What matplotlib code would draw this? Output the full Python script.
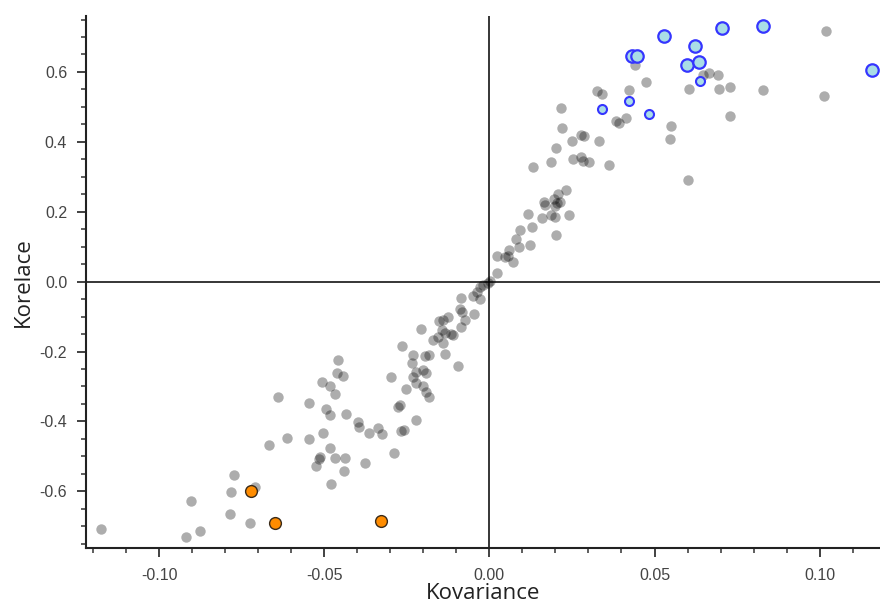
import matplotlib
matplotlib.use("Agg")
import matplotlib.pyplot as plt
from matplotlib.ticker import MultipleLocator, FormatStrFormatter

plt.rcParams['axes.unicode_minus'] = False

# covariance / correlation pairs, ordinary assets
gray_cov = [0.1020, 0.0829, 0.1012, 0.0440, 0.0474, 0.0422, 0.0325, 0.0340, 0.0648, 0.0665,
            0.0693, 0.0605, 0.0696, 0.0728, 0.0728, 0.0413, 0.0383, 0.0393, 0.0550, 0.0546,
            0.0600, 0.0218, 0.0221, 0.0249, 0.0276, 0.0286, 0.0332, 0.0252, 0.0276, 0.0282,
            0.0301, 0.0363, 0.0232, 0.0201, 0.0185, 0.0132, 0.0209, 0.0195, 0.0165, 0.0169,
            0.0205, 0.0215, 0.0200, 0.0117, 0.0158, 0.0185, 0.0198, 0.0241, 0.0129, 0.0092,
            0.0201, 0.0082, 0.0122, 0.0090, 0.0059, 0.0022, 0.0047, 0.0057, 0.0070, 0.0022,
            0.0001, -0.0004, -0.0019, -0.0029, -0.0037, -0.0049, -0.0029, -0.0085, -0.0090, -0.0082,
            -0.0047, -0.0125, -0.0142, -0.0152, -0.0075, -0.0085, -0.0206, -0.0145, -0.0135, -0.0115,
            -0.0110, -0.0155, -0.0171, -0.0140, -0.0266, -0.0135, -0.0095, -0.0231, -0.0196, -0.0183,
            -0.0236, -0.0297, -0.0221, -0.0201, -0.0191, -0.0231, -0.0221, -0.0201, -0.0191, -0.0183,
            -0.0223, -0.0460, -0.0463, -0.0443, -0.0506, -0.0484, -0.0468, -0.0640, -0.0546, -0.0496,
            -0.0484, -0.0433, -0.0398, -0.0396, -0.0337, -0.0365, -0.0324, -0.0504, -0.0254, -0.0278,
            -0.0272, -0.0258, -0.0269, -0.0290, -0.0613, -0.0547, -0.0669, -0.0484, -0.0512, -0.0516,
            -0.0526, -0.0468, -0.0438, -0.0440, -0.0378, -0.0479, -0.0775, -0.0784, -0.0711, -0.0785,
            -0.0724, -0.0903, -0.1178, -0.0918, -0.0878]
gray_cor = [0.717, 0.549, 0.530, 0.620, 0.572, 0.549, 0.546, 0.538, 0.591, 0.596,
            0.591, 0.552, 0.550, 0.557, 0.474, 0.469, 0.461, 0.453, 0.445, 0.407,
            0.292, 0.497, 0.439, 0.403, 0.420, 0.417, 0.403, 0.352, 0.358, 0.345,
            0.342, 0.333, 0.262, 0.381, 0.342, 0.328, 0.251, 0.236, 0.229, 0.219,
            0.224, 0.227, 0.215, 0.194, 0.183, 0.191, 0.186, 0.190, 0.157, 0.148,
            0.134, 0.122, 0.106, 0.098, 0.091, 0.072, 0.070, 0.074, 0.057, 0.026,
            0.003, -0.005, -0.009, -0.016, -0.029, -0.041, -0.050, -0.048, -0.079, -0.086,
            -0.092, -0.100, -0.110, -0.114, -0.110, -0.129, -0.136, -0.138, -0.146, -0.150,
            -0.153, -0.159, -0.167, -0.176, -0.184, -0.207, -0.240, -0.210, -0.213, -0.210,
            -0.233, -0.272, -0.258, -0.253, -0.262, -0.274, -0.291, -0.300, -0.315, -0.331,
            -0.396, -0.224, -0.260, -0.269, -0.288, -0.298, -0.321, -0.329, -0.346, -0.363,
            -0.381, -0.380, -0.401, -0.415, -0.418, -0.434, -0.437, -0.432, -0.307, -0.359,
            -0.353, -0.424, -0.427, -0.489, -0.448, -0.451, -0.467, -0.477, -0.502, -0.508,
            -0.527, -0.504, -0.504, -0.542, -0.520, -0.579, -0.553, -0.603, -0.587, -0.665,
            -0.691, -0.628, -0.707, -0.730, -0.713]

# highlighted: large blue, small blue, orange
blue_big_cov = [0.0433, 0.0447, 0.0528, 0.0623, 0.0599, 0.0634, 0.0703, 0.0829, 0.1159]
blue_big_cor = [0.646, 0.646, 0.703, 0.674, 0.621, 0.628, 0.725, 0.732, 0.605]
blue_small_cov = [0.0638, 0.0423, 0.0340, 0.0482]
blue_small_cor = [0.573, 0.516, 0.494, 0.479]
orange_cov = [-0.0723, -0.0649, -0.0329]
orange_cor = [-0.599, -0.691, -0.685]

fig = plt.figure(figsize=(8.8, 6.04), dpi=100)
ax = fig.add_axes([0.0977, 0.0922, 0.9023, 0.8813])

ax.axhline(0, color='black', lw=1.1, zorder=1)
ax.axvline(0, color='black', lw=1.1, zorder=1)

ax.scatter(gray_cov, gray_cor, s=56, color='black', alpha=0.32, linewidths=0, zorder=2)
ax.scatter(orange_cov, orange_cor, s=72, color='#ff8c00', edgecolors='#3a2a18',
           linewidths=1.0, zorder=3)
ax.scatter(blue_big_cov, blue_big_cor, s=80, color='#a9dde6', edgecolors='#3535ff',
           linewidths=1.6, zorder=3)
ax.scatter(blue_small_cov, blue_small_cor, s=42, color='#a9dde6', edgecolors='#3535ff',
           linewidths=1.5, zorder=3)

ax.set_xlim(-0.1222, 0.1183)
ax.set_ylim(-0.763, 0.760)

ax.xaxis.set_major_locator(MultipleLocator(0.05))
ax.xaxis.set_minor_locator(MultipleLocator(0.01))
ax.yaxis.set_major_locator(MultipleLocator(0.2))
ax.yaxis.set_minor_locator(MultipleLocator(0.05))
ax.xaxis.set_major_formatter(FormatStrFormatter('%.2f'))
ax.yaxis.set_major_formatter(FormatStrFormatter('%.1f'))

for side in ['top', 'right']:
    ax.spines[side].set_visible(False)
for side in ['left', 'bottom']:
    ax.spines[side].set_linewidth(1.5)
    ax.spines[side].set_color('#222222')

ax.tick_params(which='major', direction='out', length=6.5, width=1.3, color='#333333',
               labelsize=11.5, labelcolor='#444444')
ax.tick_params(which='minor', direction='out', length=3.5, width=1.1, color='#333333')
ax.tick_params(axis='x', which='major', pad=8)
ax.tick_params(axis='y', which='major', pad=7)
for lab in ax.get_xticklabels() + ax.get_yticklabels():
    lab.set_fontfamily('Liberation Sans')

ax.set_xlabel('Kovariance', fontsize=16, family='Open Sans', color='#222222', labelpad=0)
ax.set_ylabel('Korelace', fontsize=16, family='Open Sans', color='#222222', labelpad=4)

fig.savefig('out.png', dpi=100)
